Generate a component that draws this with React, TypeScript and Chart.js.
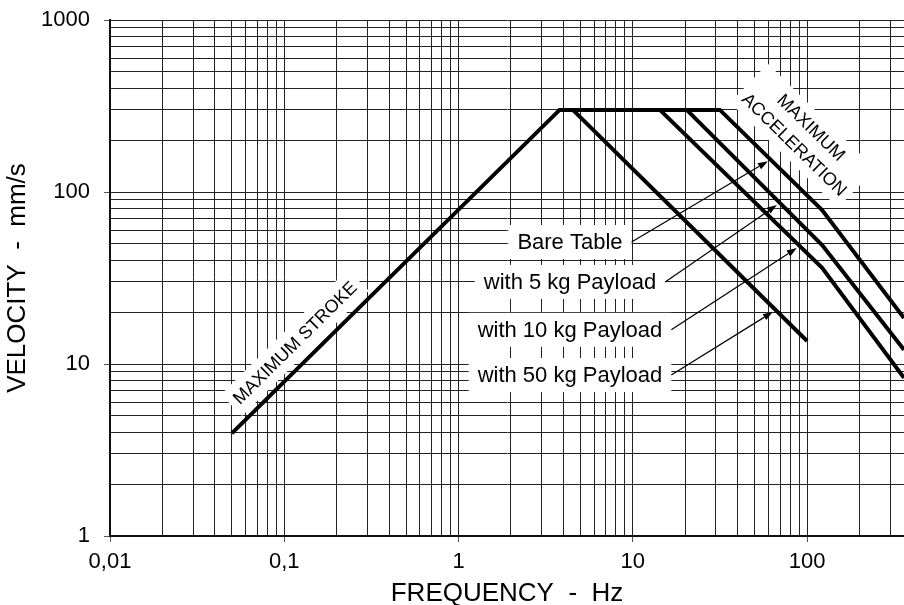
import { useEffect, useRef } from 'react';
import { Chart, registerables } from 'chart.js';

Chart.register(...registerables);

const FONT = "'Liberation Sans', Arial, Helvetica, sans-serif";

// Axes
const xMin = 0.01;
const xMax = 360;
const yMin = 1;
const yMax = 1000;
const xTickValues = [0.01, 0.1, 1, 10, 100];
const xTickLabels = ['0,01', '0,1', '1', '10', '100'];
const yTickValues = [1, 10, 100, 1000];
const yTickLabels = ['1', '10', '100', '1000'];
const xTitle = 'FREQUENCY  -  Hz';
const yTitle = 'VELOCITY  -  mm/s';

// Performance curves (frequency Hz, velocity mm/s)
const bareFreq = [0.05, 3.8, 31.6, 122, 360];
const bareVel = [3.95, 300, 300, 78.6, 18.5];
const kg5Freq = [20.4, 122, 360];
const kg5Vel = [300, 49.2, 12.1];
const kg10Freq = [14.3, 122, 360];
const kg10Vel = [300, 36.2, 8.3];
const kg50Freq = [4.53, 100];
const kg50Vel = [300, 13.6];

// Labels with arrows
const payloadLabels = ['Bare Table', 'with 5 kg Payload', 'with 10 kg Payload', 'with 50 kg Payload'];
const payloadLabelFreq = [4.36, 4.36, 4.36, 4.36];
const payloadLabelVel = [51.2, 30.0, 15.8, 8.63];
const arrowTipFreq = [59.6, 67.1, 87.3, 63.7];
const arrowTipVel = [151, 84, 47.2, 20.1];

// Rotated region labels
const strokeLabel = ['MAXIMUM STROKE'];
const strokeLabelFreq = 0.115;
const strokeLabelVel = 13.3;
const accelLabel = ['MAXIMUM', 'ACCELERATION'];
const accelLabelFreq = 94.6;
const accelLabelVel = 212;

function logGrid(min: number, max: number): number[] {
  const out: number[] = [];
  for (let e = Math.floor(Math.log10(min)); e <= Math.ceil(Math.log10(max)); e++) {
    for (let m = 1; m <= 9; m++) {
      const v = +(m * Math.pow(10, e)).toPrecision(6);
      if (v >= min * 0.9999 && v <= max * 1.0001) out.push(v);
    }
  }
  return out;
}

function isDecade(v: number): boolean {
  const l = Math.log10(v);
  return Math.abs(l - Math.round(l)) < 1e-6;
}

function labelFor(v: number, values: number[], labels: string[]): string {
  const i = values.findIndex((t) => Math.abs(t - v) / t < 1e-6);
  return i >= 0 ? labels[i] : '';
}

function toPoints(fs: number[], vs: number[]) {
  return fs.map((f, i) => ({ x: f, y: vs[i] }));
}

function drawArrow(ctx: CanvasRenderingContext2D, sx: number, sy: number, tx: number, ty: number) {
  const a = Math.atan2(ty - sy, tx - sx);
  const L = 10;
  const W = 3.5;
  const bx = tx - L * Math.cos(a);
  const by = ty - L * Math.sin(a);
  ctx.strokeStyle = '#000';
  ctx.lineWidth = 1.2;
  ctx.beginPath();
  ctx.moveTo(sx, sy);
  ctx.lineTo(bx, by);
  ctx.stroke();
  ctx.beginPath();
  ctx.moveTo(tx, ty);
  ctx.lineTo(bx - W * Math.sin(a), by + W * Math.cos(a));
  ctx.lineTo(bx + W * Math.sin(a), by - W * Math.cos(a));
  ctx.closePath();
  ctx.fillStyle = '#000';
  ctx.fill();
}

function rotatedLabel(
  ctx: CanvasRenderingContext2D,
  lines: string[],
  cx: number,
  cy: number,
  angle: number,
  fontSize: number,
  lineGap: number,
  pad: number
) {
  ctx.save();
  ctx.translate(cx, cy);
  ctx.rotate(angle);
  ctx.font = `${fontSize}px ${FONT}`;
  const w = Math.max(...lines.map((l) => ctx.measureText(l).width)) + 2 * pad;
  const h = (lines.length - 1) * lineGap + fontSize + 2 * pad;
  ctx.fillStyle = '#fff';
  ctx.fillRect(-w / 2, -h / 2, w, h);
  ctx.fillStyle = '#000';
  ctx.textAlign = 'center';
  ctx.textBaseline = 'middle';
  lines.forEach((l, i) => ctx.fillText(l, 0, (i - (lines.length - 1) / 2) * lineGap + 1));
  ctx.restore();
}

const annotationPlugin = {
  id: 'vibAnnotations',
  beforeDatasetsDraw(chart: any) {
    const { ctx, chartArea } = chart;
    const x = chart.scales.x;
    const y = chart.scales.y;
    ctx.save();
    ctx.beginPath();
    ctx.rect(chartArea.left, chartArea.top, chartArea.right - chartArea.left, chartArea.bottom - chartArea.top);
    ctx.clip();

    // Payload labels: white boxes first
    ctx.font = `22px ${FONT}`;
    const boxes = payloadLabels.map((t, i) => {
      const cx = x.getPixelForValue(payloadLabelFreq[i]);
      const cy = y.getPixelForValue(payloadLabelVel[i]);
      const w = ctx.measureText(t).width + 18;
      const h = 34;
      return { t, cx, cy, w, h };
    });
    ctx.fillStyle = '#fff';
    boxes.forEach((b) => ctx.fillRect(b.cx - b.w / 2, b.cy - b.h / 2, b.w, b.h));
    ctx.fillStyle = '#000';
    ctx.textAlign = 'center';
    ctx.textBaseline = 'middle';
    boxes.forEach((b) => ctx.fillText(b.t, b.cx, b.cy + 1));
    boxes.forEach((b, i) => {
      drawArrow(ctx, b.cx + b.w / 2, b.cy, x.getPixelForValue(arrowTipFreq[i]), y.getPixelForValue(arrowTipVel[i]));
    });

    // Rotated labels parallel to the curves
    const sAng = Math.atan2(
      y.getPixelForValue(bareVel[1]) - y.getPixelForValue(bareVel[0]),
      x.getPixelForValue(bareFreq[1]) - x.getPixelForValue(bareFreq[0])
    );
    rotatedLabel(ctx, strokeLabel, x.getPixelForValue(strokeLabelFreq), y.getPixelForValue(strokeLabelVel), sAng, 18, 24, 6);
    const aAng = Math.atan2(
      y.getPixelForValue(bareVel[3]) - y.getPixelForValue(bareVel[2]),
      x.getPixelForValue(bareFreq[3]) - x.getPixelForValue(bareFreq[2])
    );
    rotatedLabel(ctx, accelLabel, x.getPixelForValue(accelLabelFreq), y.getPixelForValue(accelLabelVel), aAng, 18, 24, 6);
    ctx.restore();
  },
};

const lineStyle = {
  borderColor: '#000',
  borderWidth: 4,
  pointRadius: 0,
  fill: false,
  tension: 0,
  borderJoinStyle: 'miter' as const,
  borderCapStyle: 'butt' as const,
};

export default function App() {
  const ref = useRef<HTMLCanvasElement>(null);

  useEffect(() => {
    if (!ref.current) return;
    const gridOpts = {
      color: '#222',
      lineWidth: 1,
      tickLength: 6,
      tickWidth: 1,
      tickColor: (c: any) => (c.tick && isDecade(c.tick.value) ? '#555' : 'rgba(0,0,0,0)'),
    };
    const chart = new Chart(ref.current, {
      type: 'line',
      data: {
        datasets: [
          { label: 'Bare Table', data: toPoints(bareFreq, bareVel), ...lineStyle },
          { label: 'with 5 kg Payload', data: toPoints(kg5Freq, kg5Vel), ...lineStyle },
          { label: 'with 10 kg Payload', data: toPoints(kg10Freq, kg10Vel), ...lineStyle },
          { label: 'with 50 kg Payload', data: toPoints(kg50Freq, kg50Vel), ...lineStyle },
        ],
      },
      options: {
        animation: false,
        responsive: true,
        maintainAspectRatio: false,
        layout: { padding: { top: 20, right: 0, left: 0, bottom: 0 } },
        plugins: {
          legend: { display: false },
          tooltip: { enabled: false },
          title: { display: false },
        },
        events: [],
        scales: {
          x: {
            type: 'logarithmic',
            min: xMin,
            max: xMax,
            afterBuildTicks: (s: any) => {
              s.ticks = logGrid(xMin, xMax).map((v) => ({ value: v, major: false }));
            },
            afterFit: (s: any) => {
              s.height = 69;
              s.paddingLeft = 0;
              s.paddingRight = 0;
            },
            ticks: {
              autoSkip: false,
              maxRotation: 0,
              minRotation: 0,
              padding: 7,
              color: '#000',
              font: { family: FONT, size: 22 },
              callback: (v: any) => labelFor(Number(v), xTickValues, xTickLabels),
            },
            grid: gridOpts,
            border: { display: true, color: '#111', width: 2 },
            title: {
              display: true,
              text: xTitle,
              color: '#000',
              font: { family: FONT, size: 26, lineHeight: 1 },
              padding: { top: 0, bottom: -2 },
            },
          },
          y: {
            type: 'logarithmic',
            min: yMin,
            max: yMax,
            afterBuildTicks: (s: any) => {
              s.ticks = logGrid(yMin, yMax).map((v) => ({ value: v, major: false }));
            },
            afterFit: (s: any) => {
              s.width = 110;
              s.paddingTop = 0;
              s.paddingBottom = 0;
            },
            ticks: {
              autoSkip: false,
              padding: 14,
              color: '#000',
              font: { family: FONT, size: 22 },
              callback: (v: any) => labelFor(Number(v), yTickValues, yTickLabels),
            },
            grid: gridOpts,
            border: { display: true, color: '#111', width: 2 },
            title: {
              display: true,
              text: yTitle,
              color: '#000',
              font: { family: FONT, size: 26, lineHeight: 1 },
              padding: { top: 5, bottom: 0 },
            },
          },
        },
      } as any,
      plugins: [annotationPlugin],
    });
    return () => chart.destroy();
  }, []);

  return (
    <div style={{ position: 'absolute', left: 0, top: 0, width: 904, height: 605, background: '#fff' }}>
      <canvas ref={ref} />
    </div>
  );
}
